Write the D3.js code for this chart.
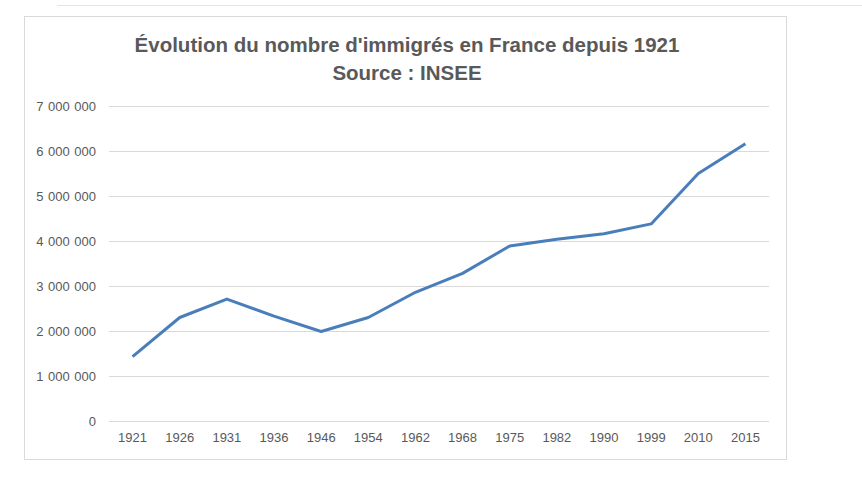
<!DOCTYPE html>
<html>
<head>
<meta charset="utf-8">
<script src="https://cdn.jsdelivr.net/npm/d3@7"></script>
<style>
  body { margin: 0; background: #fff; }
  svg { display: block; }
</style>
</head>
<body>
<div id="chart"></div>
<script>
// data
const years = ['1921', '1926', '1931', '1936', '1946', '1954', '1962', '1968', '1975', '1982', '1990', '1999', '2010', '2015'];
const immigrants = [1430000, 2300000, 2710000, 2330000, 1990000, 2300000, 2860000, 3280000, 3890000, 4040000, 4160000, 4380000, 5500000, 6160000];
const yTicks = [0, 1000000, 2000000, 3000000, 4000000, 5000000, 6000000, 7000000];
const titleLines = ["Évolution du nombre d'immigrés en France depuis 1921", 'Source : INSEE'];

const width = 862, height = 482;
const plot = { left: 109, right: 769, top: 106, bottom: 421 };
const font = "'Liberation Sans', Arial, sans-serif";

var svg = d3.select('#chart')
    .append('svg')
    .attr('width', width)
    .attr('height', height);

// faint line above the chart
svg.append('line')
    .attr('x1', 57).attr('x2', width)
    .attr('y1', 5.5).attr('y2', 5.5)
    .style('stroke', '#e4e4e4');

// chart frame
svg.append('rect')
    .attr('x', 24.5).attr('y', 16.5)
    .attr('width', 762).attr('height', 443)
    .style('fill', '#fff')
    .style('stroke', '#d9d9d9');

svg.append('g')
    .selectAll('text')
    .data(titleLines)
    .enter()
    .append('text')
    .attr('x', 407)
    .attr('y', (d, i) => 52 + i * 28)
    .attr('text-anchor', 'middle')
    .style('font-family', font)
    .style('font-weight', 'bold')
    .style('font-size', '20.5px')
    .style('fill', '#595959')
    .text(d => d);

var x = d3.scaleBand()
    .domain(years)
    .range([plot.left, plot.right]);

var y = d3.scaleLinear()
    .domain([0, 7000000])
    .range([plot.bottom, plot.top]);

const fmt = v => d3.format(',')(v).replace(/,/g, ' ');

// horizontal gridlines + labels
var yAxis = svg.append('g')
    .attr('transform', `translate(${plot.left},0)`)
    .call(d3.axisLeft(y)
        .tickValues(yTicks)
        .tickSize(-(plot.right - plot.left))
        .tickPadding(13)
        .tickFormat(fmt));
yAxis.select('.domain').remove();
yAxis.selectAll('.tick line').style('stroke', '#d9d9d9');
yAxis.selectAll('.tick text')
    .style('font-family', font)
    .style('font-size', '13px')
    .style('word-spacing', '1px')
    .style('fill', '#595959');

var xAxis = svg.append('g')
    .attr('transform', `translate(0,${plot.bottom})`)
    .call(d3.axisBottom(x).tickSize(0).tickPadding(12));
xAxis.select('.domain').remove();
xAxis.selectAll('.tick text')
    .style('font-family', font)
    .style('font-size', '13px')
    .style('fill', '#595959');

var line = d3.line()
    .x((d, i) => x(years[i]) + x.bandwidth() / 2)
    .y(d => y(d));

svg.append('path')
    .datum(immigrants)
    .attr('d', line)
    .style('fill', 'none')
    .style('stroke', '#4a7ebb')
    .style('stroke-width', 3)
    .style('stroke-linejoin', 'round');
</script>
</body>
</html>
